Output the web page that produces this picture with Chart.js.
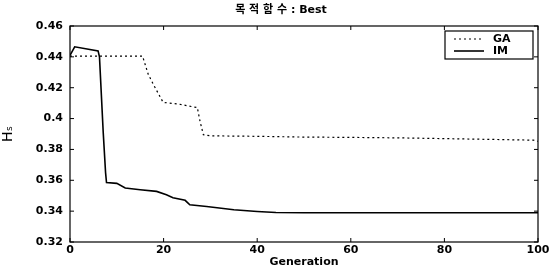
<!DOCTYPE html>
<html>
<head>
<meta charset="utf-8">
<script src="https://cdn.jsdelivr.net/npm/chart.js@4/dist/chart.umd.min.js"></script>
<style>
  html, body { margin: 0; padding: 0; background: #fff; }
  #wrap { width: 552px; height: 269px; }
</style>
</head>
<body>
<div id="wrap"><canvas id="myChart" width="552" height="269"></canvas></div>
<script>
// data
const gaGen = [0, 15.5, 16.7, 17.8, 19.9, 23, 26.5, 27.2, 27.8, 28.5, 30, 40, 50, 60, 70, 80, 90, 99, 100];
const gaVal = [0.4405, 0.4405, 0.4288, 0.4222, 0.4105, 0.4095, 0.4075, 0.4072, 0.398, 0.3895, 0.3888, 0.3885, 0.388, 0.3878, 0.3875, 0.387, 0.3865, 0.386, 0.3853];

const imGen = [0, 1, 6, 6.3, 7.1, 7.6, 7.8, 10, 11.8, 15, 18.5, 20.6, 22, 24.6, 25.6, 29.2, 35, 40, 44, 50, 100];
const imVal = [0.441, 0.4465, 0.4439, 0.44, 0.391, 0.365, 0.3585, 0.358, 0.355, 0.3539, 0.3528, 0.3506, 0.3487, 0.347, 0.3441, 0.343, 0.3409, 0.3398, 0.3391, 0.339, 0.339];

const xTicks = [0, 20, 40, 60, 80, 100];
const yTicks = [0.32, 0.34, 0.36, 0.38, 0.4, 0.42, 0.44, 0.46];

const FONT = 'DejaVu Sans, Liberation Sans, sans-serif';

function toPoints(xs, ys) {
    return xs.map((x, i) => ({ x: x, y: ys[i] }));
}

// box, inward ticks and legend like the matlab figure
const framePlugin = {
    id: 'frame',
    afterDraw(chart) {
        const ctx = chart.ctx;
        const a = chart.chartArea;
        const xs = chart.scales.x, ys = chart.scales.y;
        ctx.save();
        ctx.strokeStyle = '#000';
        ctx.lineWidth = 1.2;
        ctx.strokeRect(a.left, a.top, a.right - a.left, a.bottom - a.top);
        ctx.lineWidth = 1;
        ctx.beginPath();
        xTicks.forEach(v => {
            const px = xs.getPixelForValue(v);
            ctx.moveTo(px, a.bottom); ctx.lineTo(px, a.bottom - 4);
            ctx.moveTo(px, a.top); ctx.lineTo(px, a.top + 4);
        });
        yTicks.forEach(v => {
            const py = ys.getPixelForValue(v);
            ctx.moveTo(a.left, py); ctx.lineTo(a.left + 4, py);
            ctx.moveTo(a.right, py); ctx.lineTo(a.right - 4, py);
        });
        ctx.stroke();

        // legend box
        const bx = a.right - 93, by = a.top + 5, bw = 88, bh = 28;
        ctx.fillStyle = '#fff';
        ctx.fillRect(bx, by, bw, bh);
        ctx.lineWidth = 1.2;
        ctx.strokeRect(bx, by, bw, bh);
        ctx.font = 'bold 11px ' + FONT;
        ctx.textBaseline = 'middle';
        chart.data.datasets.forEach((ds, i) => {
            const ly = by + 8 + i * 12;
            ctx.beginPath();
            ctx.strokeStyle = ds.borderColor;
            ctx.lineWidth = ds.borderWidth;
            ctx.setLineDash(ds.borderDash || []);
            ctx.moveTo(bx + 9, ly); ctx.lineTo(bx + 39, ly);
            ctx.stroke();
            ctx.setLineDash([]);
            ctx.fillStyle = '#000';
            ctx.fillText(ds.label, bx + 48, ly);
        });

        // title, centred a little right of the canvas middle as in the figure
        ctx.font = 'bold 11px ' + FONT + ', Noto Sans CJK KR';
        ctx.textAlign = 'center';
        ctx.textBaseline = 'middle';
        ctx.fillText(chart.options.plugins.title.text, 281, 10);
        ctx.restore();
    }
};

const ctx = document.getElementById('myChart').getContext('2d');

const myChart = new Chart(ctx, {
    type: 'line',
    data: {
        datasets: [
            {
                label: 'GA',
                data: toPoints(gaGen, gaVal),
                borderColor: '#000',
                borderWidth: 1.2,
                borderDash: [2, 3],
                pointRadius: 0,
                tension: 0,
                fill: false
            },
            {
                label: 'IM',
                data: toPoints(imGen, imVal),
                borderColor: '#000',
                borderWidth: 1.6,
                pointRadius: 0,
                tension: 0,
                fill: false
            }
        ]
    },
    options: {
        responsive: false,
        animation: false,
        layout: { padding: { left: 0, right: 14, top: 26, bottom: 0 } },
        plugins: {
            legend: { display: false },
            tooltip: { enabled: false },
            // text only; drawn by the frame plugin
            title: { display: false, text: '목 적 함 수 : Best' }
        },
        scales: {
            x: {
                type: 'linear',
                min: 0,
                max: 100,
                afterBuildTicks(scale) { scale.ticks = xTicks.map(v => ({ value: v })); },
                afterFit(scale) { scale.height = 27; },
                grid: { display: false, drawTicks: false },
                border: { display: false },
                ticks: { color: '#000', padding: 2, font: { family: FONT, size: 11, weight: 'bold' } },
                title: {
                    display: true,
                    text: 'Generation',
                    color: '#000',
                    padding: { top: 0, bottom: 0 },
                    font: { family: FONT, size: 11, weight: 'bold' }
                }
            },
            y: {
                min: 0.32,
                max: 0.46,
                afterBuildTicks(scale) { scale.ticks = yTicks.map(v => ({ value: v })); },
                afterFit(scale) { scale.width = 70; },
                grid: { display: false, drawTicks: false },
                border: { display: false },
                ticks: {
                    color: '#000',
                    padding: 7,
                    font: { family: FONT, size: 11, weight: 'bold' },
                    callback: v => String(Math.round(v * 100) / 100)
                },
                title: {
                    display: true,
                    text: 'Hₛ',
                    color: '#000',
                    padding: { top: 0, bottom: 2 },
                    font: { family: FONT, size: 14 }
                }
            }
        }
    },
    plugins: [framePlugin]
});
</script>
</body>
</html>
